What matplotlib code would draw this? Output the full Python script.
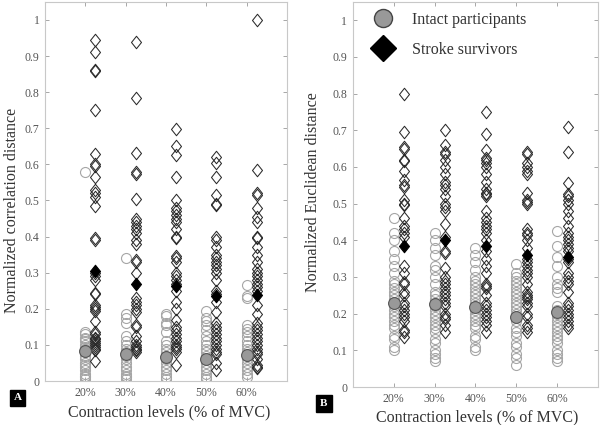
import numpy as np
import matplotlib
matplotlib.use("Agg")
import matplotlib.pyplot as plt
from matplotlib.lines import Line2D
from matplotlib.path import Path

plt.rcParams['font.family'] = ['Liberation Serif', 'DejaVu Serif']

levels = ["20%", "30%", "40%", "50%", "60%"]

# Panel A: normalized correlation distance
corr_intact = [
    [0.005, 0.01, 0.015, 0.02, 0.03, 0.04, 0.045, 0.05, 0.06, 0.07, 0.08, 0.085, 0.09, 0.095, 0.10, 0.11, 0.115, 0.12, 0.13, 0.135, 0.58],
    [0.005, 0.01, 0.015, 0.02, 0.03, 0.04, 0.05, 0.06, 0.07, 0.08, 0.09, 0.10, 0.11, 0.125, 0.16, 0.175, 0.185, 0.34],
    [0.005, 0.01, 0.02, 0.03, 0.04, 0.05, 0.06, 0.07, 0.08, 0.09, 0.10, 0.11, 0.135, 0.155, 0.16, 0.18, 0.185],
    [0.005, 0.01, 0.02, 0.03, 0.04, 0.05, 0.06, 0.07, 0.08, 0.09, 0.10, 0.11, 0.125, 0.14, 0.155, 0.165, 0.175, 0.195],
    [0.01, 0.02, 0.03, 0.04, 0.05, 0.06, 0.07, 0.08, 0.09, 0.10, 0.11, 0.125, 0.135, 0.145, 0.155, 0.23, 0.235, 0.265],
]
corr_stroke = [
    [0.945, 0.91, 0.862, 0.858, 0.75, 0.628, 0.60, 0.595, 0.565, 0.53, 0.52, 0.51, 0.485, 0.395, 0.39, 0.30, 0.29, 0.28,
     0.245, 0.24, 0.21, 0.205, 0.20, 0.195, 0.165, 0.135, 0.13, 0.12, 0.115, 0.11, 0.105, 0.10, 0.095, 0.09, 0.085, 0.055],
    [0.938, 0.785, 0.632, 0.578, 0.572, 0.505, 0.45, 0.44, 0.43, 0.42, 0.41, 0.39, 0.38, 0.335, 0.33, 0.30, 0.23, 0.22,
     0.21, 0.20, 0.19, 0.155, 0.15, 0.125, 0.11, 0.10, 0.095, 0.09, 0.085, 0.08],
    [0.698, 0.652, 0.625, 0.565, 0.50, 0.48, 0.47, 0.46, 0.45, 0.44, 0.42, 0.40, 0.395, 0.345, 0.34, 0.33, 0.30, 0.29,
     0.28, 0.27, 0.25, 0.22, 0.20, 0.17, 0.15, 0.14, 0.13, 0.12, 0.11, 0.10, 0.095, 0.09, 0.08, 0.045],
    [0.62, 0.605, 0.565, 0.515, 0.49, 0.488, 0.40, 0.39, 0.37, 0.35, 0.34, 0.33, 0.32, 0.31, 0.30, 0.28, 0.25, 0.24,
     0.22, 0.19, 0.16, 0.15, 0.14, 0.13, 0.12, 0.11, 0.10, 0.09, 0.08, 0.075, 0.05, 0.03],
    [1.0, 0.585, 0.52, 0.515, 0.48, 0.455, 0.44, 0.40, 0.395, 0.37, 0.35, 0.33, 0.31, 0.30, 0.29, 0.28, 0.27, 0.26,
     0.25, 0.21, 0.185, 0.16, 0.15, 0.14, 0.13, 0.12, 0.11, 0.10, 0.09, 0.08, 0.075, 0.06, 0.045, 0.04, 0.035],
]
corr_intact_mean = [0.083, 0.075, 0.066, 0.062, 0.072]
corr_stroke_mean = [0.305, 0.268, 0.262, 0.235, 0.238]

# Panel B: normalized Euclidean distance
eucl_intact = [
    [0.46, 0.42, 0.40, 0.37, 0.35, 0.33, 0.31, 0.29, 0.28, 0.27, 0.26, 0.25, 0.24, 0.23, 0.22, 0.21, 0.20, 0.19,
     0.18, 0.17, 0.16, 0.14, 0.13, 0.11, 0.10],
    [0.42, 0.40, 0.38, 0.36, 0.33, 0.32, 0.30, 0.28, 0.26, 0.25, 0.24, 0.23, 0.22, 0.21, 0.20, 0.19, 0.18, 0.17,
     0.16, 0.15, 0.13, 0.12, 0.10, 0.09, 0.08, 0.07],
    [0.38, 0.36, 0.34, 0.32, 0.30, 0.29, 0.28, 0.27, 0.26, 0.25, 0.24, 0.23, 0.22, 0.21, 0.20, 0.19, 0.18, 0.17,
     0.16, 0.14, 0.13, 0.11, 0.10],
    [0.335, 0.31, 0.30, 0.29, 0.28, 0.27, 0.26, 0.25, 0.24, 0.23, 0.22, 0.21, 0.20, 0.18, 0.16, 0.15, 0.14, 0.12,
     0.11, 0.09, 0.08, 0.06],
    [0.425, 0.385, 0.355, 0.33, 0.30, 0.28, 0.27, 0.26, 0.22, 0.21, 0.20, 0.19, 0.18, 0.17, 0.16, 0.15, 0.14, 0.13,
     0.12, 0.10, 0.09, 0.08, 0.07],
]
eucl_stroke = [
    [0.80, 0.695, 0.655, 0.65, 0.62, 0.615, 0.59, 0.565, 0.55, 0.545, 0.51, 0.50, 0.495, 0.46, 0.44, 0.43, 0.42, 0.41,
     0.33, 0.31, 0.285, 0.28, 0.26, 0.25, 0.23, 0.22, 0.21, 0.20, 0.19, 0.18, 0.155, 0.15, 0.135],
    [0.70, 0.66, 0.64, 0.635, 0.62, 0.60, 0.58, 0.56, 0.55, 0.54, 0.52, 0.50, 0.49, 0.48, 0.445, 0.41, 0.37, 0.365,
     0.325, 0.30, 0.29, 0.28, 0.27, 0.26, 0.25, 0.24, 0.23, 0.22, 0.20, 0.19, 0.185, 0.17, 0.15],
    [0.75, 0.69, 0.645, 0.625, 0.62, 0.61, 0.60, 0.58, 0.56, 0.54, 0.53, 0.525, 0.52, 0.48, 0.46, 0.45, 0.44, 0.43,
     0.42, 0.40, 0.37, 0.35, 0.33, 0.31, 0.28, 0.275, 0.27, 0.25, 0.23, 0.22, 0.21, 0.20, 0.19, 0.18, 0.17, 0.15],
    [0.64, 0.635, 0.61, 0.60, 0.59, 0.58, 0.53, 0.51, 0.505, 0.50, 0.43, 0.42, 0.415, 0.40, 0.38, 0.35, 0.34, 0.33,
     0.32, 0.31, 0.30, 0.28, 0.26, 0.25, 0.245, 0.24, 0.23, 0.22, 0.20, 0.19, 0.17, 0.16, 0.15],
    [0.71, 0.64, 0.555, 0.525, 0.52, 0.51, 0.50, 0.48, 0.46, 0.44, 0.42, 0.41, 0.40, 0.39, 0.38, 0.37, 0.35, 0.34,
     0.31, 0.30, 0.29, 0.28, 0.26, 0.23, 0.22, 0.21, 0.20, 0.19, 0.18, 0.17, 0.16],
]
eucl_intact_mean = [0.23, 0.227, 0.218, 0.19, 0.205]
eucl_stroke_mean = [0.385, 0.40, 0.385, 0.36, 0.355]

yticks = [0, 0.1, 0.2, 0.3, 0.4, 0.5, 0.6, 0.7, 0.8, 0.9, 1]
ytick_labels = ["0", "0.1", "0.2", "0.3", "0.4", "0.5", "0.6", "0.7", "0.8", "0.9", "1"]

diamond = Path([(0, 1), (0.8, 0), (0, -1), (-0.8, 0), (0, 1)],
               [Path.MOVETO, Path.LINETO, Path.LINETO, Path.LINETO, Path.CLOSEPOLY])

fig = plt.figure(figsize=(6, 4.25), dpi=100)
axA = fig.add_axes([0.075, 0.1035, 0.403, 0.892])
axB = fig.add_axes([0.588, 0.0894, 0.409, 0.906])

tick_color = '#555555'
spine_color = '#c8c8c8'


def draw(ax, intact, stroke, imean, smean, ylabel):
    pos = np.arange(1, len(levels) + 1)
    for i, p in enumerate(pos):
        ax.plot(np.full(len(intact[i]), p), intact[i], linestyle='none', marker='o', ms=7.2,
                mfc='none', mec='#a6a6a6', mew=0.8)
    for i, p in enumerate(pos):
        ax.plot(np.full(len(stroke[i]), p + 0.25), stroke[i], linestyle='none', marker=diamond, ms=9,
                mfc='none', mec='#2a2a2a', mew=0.75)
    ax.plot(pos, imean, linestyle='none', marker='o', ms=8.5, mfc='#999999', mec='#555555', mew=0.8)
    ax.plot(pos + 0.25, smean, linestyle='none', marker=diamond, ms=9, mfc='black', mec='black', mew=0.8)
    ax.set_xlim(0, 6)
    ax.set_ylim(0, 1.05)
    ax.set_xticks(pos)
    ax.set_xticklabels(levels)
    ax.set_yticks(yticks)
    ax.set_yticklabels(ytick_labels)
    ax.tick_params(direction='in', length=3, width=0.6, color='#999999', labelcolor=tick_color,
                   labelsize=8.5, top=True, right=True, pad=4)
    for s in ax.spines.values():
        s.set_color(spine_color)
        s.set_linewidth(0.8)
    ax.set_xlabel("Contraction levels (% of MVC)", fontsize=11.5, color='#333333', va='center')
    ax.set_ylabel(ylabel, fontsize=11.5, color='#333333', va='center')


draw(axA, corr_intact, corr_stroke, corr_intact_mean, corr_stroke_mean, "Normalized correlation distance")
draw(axB, eucl_intact, eucl_stroke, eucl_intact_mean, eucl_stroke_mean, "Normalized Euclidean distance")

axA.xaxis.set_label_coords(0.512, -0.082)
axA.yaxis.set_label_coords(-0.136, 0.45)
axB.xaxis.set_label_coords(0.506, -0.078)
axB.yaxis.set_label_coords(-0.163, 0.505)

handles = [
    Line2D([], [], linestyle='none', marker='o', ms=13, mfc='#999999', mec='#444444', mew=1.0),
    Line2D([], [], linestyle='none', marker='D', ms=13, mfc='black', mec='black'),
]
leg = axB.legend(handles, ["Intact participants", "Stroke survivors"], loc='upper left',
                 bbox_to_anchor=(0.02, 1.0), frameon=False, fontsize=11.5, labelspacing=0.9,
                 handletextpad=0.8, borderaxespad=0.2)
for t in leg.get_texts():
    t.set_color('#333333')

fig.text(17.5 / 600, 1 - 398 / 425, "A", ha='center', va='center', color='white', fontsize=8,
         fontweight='bold', bbox=dict(boxstyle='square,pad=0.35', fc='black', ec='black'))
fig.text(324 / 600, 1 - 403.5 / 425, "B", ha='center', va='center', color='white', fontsize=8,
         fontweight='bold', bbox=dict(boxstyle='square,pad=0.35', fc='black', ec='black'))

fig.savefig("out.png", dpi=100, facecolor='white')
